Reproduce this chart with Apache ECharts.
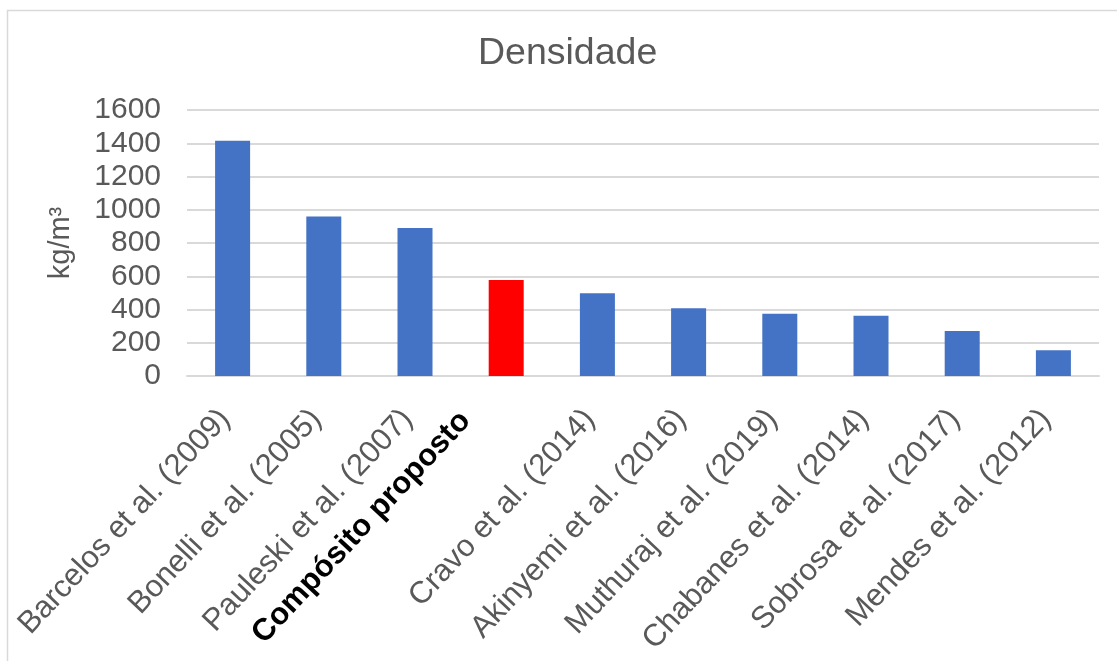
<!DOCTYPE html>
<html>
<head>
<meta charset="utf-8">
<script src="https://cdn.jsdelivr.net/npm/echarts@6/dist/echarts.min.js"></script>
<style>html,body{margin:0;padding:0;background:#fff}#c{width:1117px;height:661px}</style>
</head>
<body>
<div id="c"></div>
<script>
const categories = ["Barcelos et al. (2009)", "Bonelli et al. (2005)", "Pauleski et al. (2007)", "Compósito proposto", "Cravo et al. (2014)", "Akinyemi et al. (2016)", "Muthuraj et al. (2019)", "Chabanes et al. (2014)", "Sobrosa et al. (2017)", "Mendes et al. (2012)"];
const densities = [1415, 960, 890, 578, 498, 408, 375, 363, 270, 155];
const highlightIndex = 3;
const yTicks = { min: 0, max: 1600, interval: 200 };

const chart = echarts.init(document.getElementById('c'), null, { renderer: 'canvas' });
const font = 'Liberation Sans, Arial, sans-serif';
chart.setOption({
  animation: false,
  backgroundColor: '#fff',
  graphic: [{
    type: 'rect', shape: { x: 7.5, y: 10.5, width: 1200, height: 700 },
    style: { fill: 'none', stroke: '#d9d9d9', lineWidth: 1.5 }, silent: true, z: -1
  }],
  title: {
    text: 'Densidade', left: 473, top: 30,
    textStyle: { fontFamily: font, fontSize: 37.5, fontWeight: 'normal', color: '#595959' }
  },
  grid: { left: 187, right: 18, top: 110, bottom: 285, containLabel: false },
  xAxis: {
    type: 'category', data: categories,
    axisLine: { lineStyle: { color: '#d9d9d9', width: 2 } },
    axisTick: { show: false },
    axisLabel: {
      interval: 0, rotate: 47, margin: 30, padding: [0, 11, 0, 0],
      fontFamily: font, fontSize: 31, color: '#595959',
      formatter: (v, i) => i === highlightIndex ? '{b|' + v + '}' : v,
      rich: { b: { fontFamily: font, fontSize: 31, fontWeight: 'bold', color: '#000', padding: [0, 24, 46, 0] } }
    }
  },
  yAxis: {
    type: 'value', min: yTicks.min, max: yTicks.max, interval: yTicks.interval,
    name: 'kg/m³', nameLocation: 'middle', nameGap: 112, nameRotate: 90,
    nameTextStyle: { fontFamily: font, fontSize: 29, color: '#595959' },
    axisLine: { show: false }, axisTick: { show: false },
    axisLabel: { fontFamily: font, fontSize: 30, color: '#595959', margin: 26, formatter: v => String(v) },
    splitLine: { lineStyle: { color: '#d9d9d9', width: 2 } }
  },
  series: [{
    type: 'bar', barWidth: 35,
    data: densities.map((v, i) => ({ value: v, itemStyle: { color: i === highlightIndex ? '#ff0000' : '#4472c4' } }))
  }]
});
</script>
</body>
</html>
